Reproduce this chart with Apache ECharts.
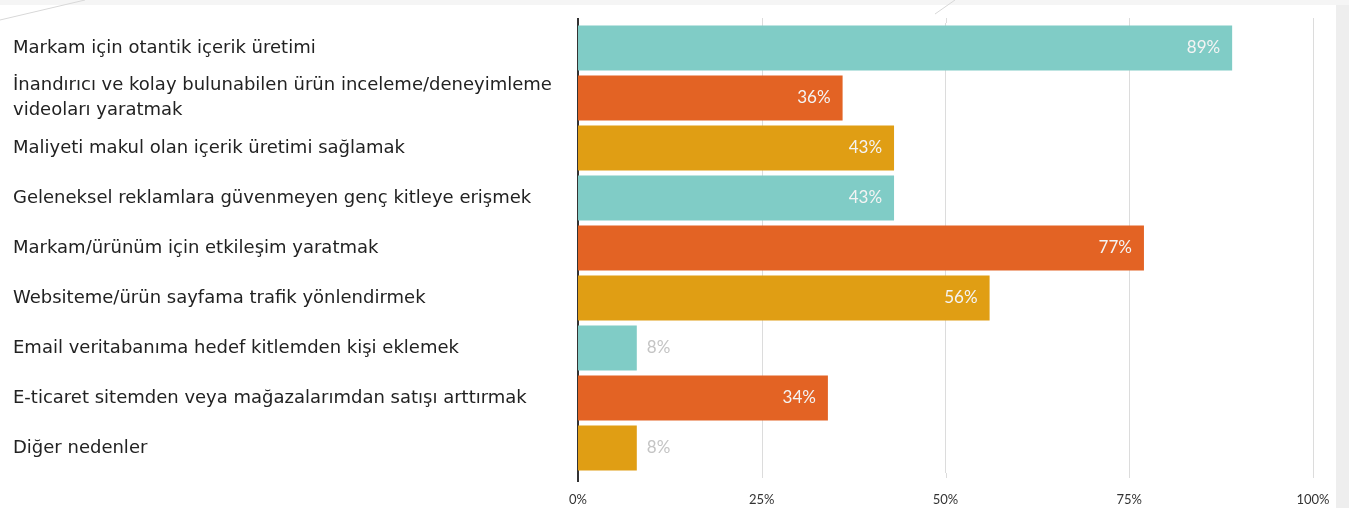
<!DOCTYPE html>
<html>
<head>
<meta charset="utf-8">
<script src="https://cdn.jsdelivr.net/npm/echarts@6/dist/echarts.min.js"></script>
<style>
  html, body { margin: 0; padding: 0; background: #fff; }
  #chart { width: 1349px; height: 508px; }
</style>
</head>
<body>
<div id="chart"></div>
<script>
const categories = [
  'Markam için otantik içerik üretimi',
  'İnandırıcı ve kolay bulunabilen ürün inceleme/deneyimleme\nvideoları yaratmak',
  'Maliyeti makul olan içerik üretimi sağlamak',
  'Geleneksel reklamlara güvenmeyen genç kitleye erişmek',
  'Markam/ürünüm için etkileşim yaratmak',
  'Websiteme/ürün sayfama trafik yönlendirmek',
  'Email veritabanıma hedef kitlemden kişi eklemek',
  'E-ticaret sitemden veya mağazalarımdan satışı arttırmak',
  'Diğer nedenler'
]
const values = [89, 36, 43, 43, 77, 56, 8, 34, 8]
const palette = ['#80ccc6', '#e36324', '#e09e14']
const xTicks = ['0%', '25%', '50%', '75%', '100%']

const chart = echarts.init(document.getElementById('chart'))

const option = {
  backgroundColor: '#ffffff',
  animation: false,
  grid: {
    left: 578,
    right: 36,
    top: 23,
    bottom: 35
  },
  xAxis: {
    type: 'value',
    min: 0,
    max: 100,
    interval: 25,
    axisLine: { show: false },
    axisTick: { show: false },
    splitLine: { show: true, lineStyle: { color: '#dcdcdc', width: 1 } },
    axisLabel: {
      margin: 20,
      fontFamily: 'Lato',
      fontSize: 13,
      color: '#333',
      formatter: (v) => xTicks[v / 25]
    }
  },
  yAxis: {
    type: 'category',
    inverse: true,
    data: categories,
    axisLine: { show: true, lineStyle: { color: '#333', width: 2 } },
    axisTick: { show: false },
    axisLabel: {
      align: 'left',
      margin: 565,
      fontFamily: 'DejaVu Sans',
      fontSize: 18,
      lineHeight: 25,
      color: '#222'
    }
  },
  series: [{
    type: 'bar',
    barCategoryGap: '10%',
    data: values.map((v, i) => ({
      value: v,
      itemStyle: { color: palette[i % 3] },
      label: v > 15
        ? { position: 'insideRight', color: '#f4f4f4', distance: 12 }
        : { position: 'right', color: '#c4c4c4', distance: 10 }
    })),
    label: {
      show: true,
      fontFamily: 'Lato',
      fontSize: 17,
      formatter: '{c}%'
    }
  }]
}

chart.setOption(option)

// frame and the short overhang of grid lines and axis beyond the plot area
const extra = [
  { type: 'rect', shape: { x: 1336, y: 0, width: 13, height: 508 }, style: { fill: '#eeeeee' } },
  { type: 'rect', shape: { x: 0, y: 0, width: 1349, height: 5 }, style: { fill: '#f5f5f5' } },
  { type: 'line', shape: { x1: 0, y1: 20, x2: 85, y2: 0 }, style: { stroke: '#d8d8d8', lineWidth: 1 } },
  { type: 'line', shape: { x1: 935, y1: 14, x2: 955, y2: 0 }, style: { stroke: '#d8d8d8', lineWidth: 1 } }
]
const plotTop = 23, plotBottom = 508 - 35
;[25, 50, 75, 100].forEach((v) => {
  const x = Math.round(chart.convertToPixel({ xAxisIndex: 0 }, v)) + 0.5
  extra.push({ type: 'line', shape: { x1: x, y1: 18, x2: x, y2: plotTop }, style: { stroke: '#dcdcdc', lineWidth: 1 } })
  extra.push({ type: 'line', shape: { x1: x, y1: plotBottom, x2: x, y2: 478 }, style: { stroke: '#dcdcdc', lineWidth: 1 } })
})
const x0 = chart.convertToPixel({ xAxisIndex: 0 }, 0)
extra.push({ type: 'line', shape: { x1: x0, y1: 18, x2: x0, y2: plotTop }, style: { stroke: '#333', lineWidth: 2 } })
extra.push({ type: 'line', shape: { x1: x0, y1: plotBottom, x2: x0, y2: 482 }, style: { stroke: '#333', lineWidth: 2 } })
chart.setOption({ graphic: extra })
</script>
</body>
</html>
